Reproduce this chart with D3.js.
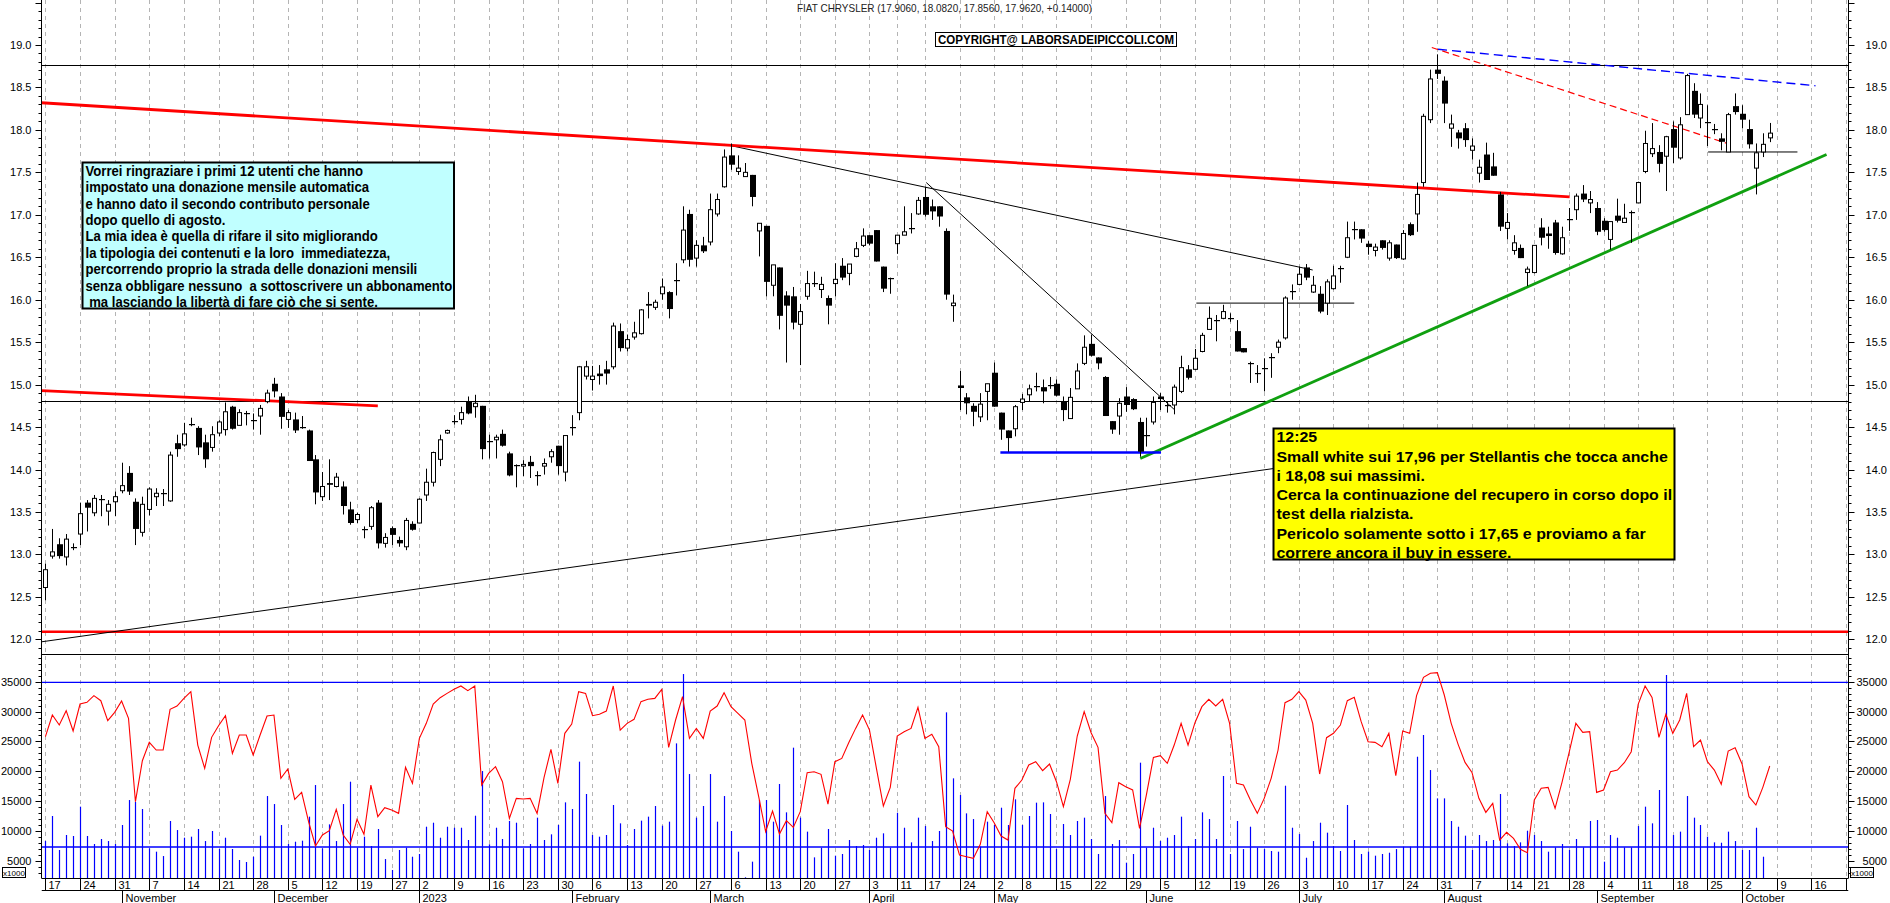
<!DOCTYPE html>
<html>
<head>
<meta charset="utf-8">
<script src="https://cdn.jsdelivr.net/npm/d3@7"></script>
<style>
  body { margin: 0; background: #fff; }
  svg { display: block; }
</style>
</head>
<body>
<script>
//
// data: one entry per trading day, Oct 17 2022 .. Oct 6 2023
//
var openP = [12.61,12.98,13.12,12.97,13.08,13.24,13.61,13.49,13.64,13.51,13.62,13.75,13.96,13.62,13.26,13.53,13.68,13.71,13.63,14.31,
  14.29,14.53,14.49,14.32,14.26,14.43,14.47,14.74,14.52,14.67,14.57,14.63,14.80,15.01,14.86,14.59,14.59,14.50,14.46,14.12,
  13.68,13.84,13.80,13.80,13.53,13.41,13.29,13.33,13.61,13.13,13.31,13.17,13.09,13.36,13.37,13.70,13.85,14.12,14.43,14.56,
  14.59,14.80,14.74,14.75,14.32,14.35,14.42,14.19,14.04,14.04,14.09,13.93,14.04,14.15,14.28,13.97,14.49,14.67,15.10,15.06,
  15.13,15.18,15.21,15.63,15.43,15.56,15.60,15.95,15.91,16.07,16.09,16.22,16.47,17.01,16.49,16.64,16.68,17.01,17.33,17.70,
  17.51,17.45,17.47,16.81,16.87,16.17,16.38,16.05,16.04,15.71,16.04,16.19,16.12,16.02,16.19,16.40,16.31,16.51,16.64,16.76,
  16.82,16.39,16.25,16.66,16.76,16.83,17.01,17.21,17.10,17.10,16.81,15.93,14.99,14.85,14.75,14.62,14.92,15.14,14.67,14.46,
  14.48,14.79,14.88,14.97,14.97,14.98,15.01,14.80,14.60,14.95,15.25,15.48,15.32,15.09,14.57,14.63,14.86,14.83,14.56,14.40,
  14.56,14.86,14.76,14.76,14.92,15.18,15.18,15.39,15.65,15.76,15.78,15.78,15.63,15.43,15.25,15.14,15.19,15.31,15.44,15.55,
  16.09,16.18,16.38,16.09,16.07,15.96,16.13,16.36,16.50,16.82,16.83,16.66,16.58,16.70,16.49,16.65,16.48,16.89,17.01,17.38,
  18.12,18.71,18.58,18.02,17.97,18.02,17.76,17.49,17.71,17.57,17.24,16.84,16.58,16.61,16.32,16.32,16.85,16.78,16.91,16.54,
  16.94,17.06,17.25,17.14,17.08,16.93,16.71,16.99,16.91,17.02,17.14,17.51,17.72,17.74,17.69,18.01,17.67,18.18,18.46,18.14,
  18.08,18.01,17.90,17.74,18.28,18.19,18.01,17.55,17.74,17.906]
var highP = [12.89,13.30,13.19,13.24,13.13,13.61,13.64,13.70,13.70,13.64,13.74,14.08,14.04,13.66,13.68,13.79,13.78,13.77,14.21,14.41,
  14.55,14.61,14.51,14.41,14.51,14.58,14.79,14.75,14.71,14.69,14.66,14.76,14.94,15.08,14.90,14.70,14.67,14.63,14.47,14.17,
  13.97,14.12,13.96,13.86,13.62,13.49,13.33,13.57,13.64,13.25,13.33,13.21,13.43,13.39,13.66,14.01,14.21,14.41,14.47,14.64,
  14.74,14.86,14.88,14.75,14.41,14.41,14.47,14.21,14.06,14.11,14.16,13.98,14.13,14.24,14.28,14.40,14.64,15.22,15.28,15.22,
  15.23,15.28,15.73,15.72,15.59,15.74,15.89,16.09,16.00,16.25,16.10,16.43,17.10,17.06,16.70,16.74,17.25,17.25,17.77,17.84,
  17.70,17.61,17.47,16.90,16.87,16.41,16.38,16.10,16.15,15.95,16.34,16.33,16.27,16.05,16.43,16.49,16.42,16.68,16.84,16.76,
  16.82,16.39,16.26,16.76,17.10,17.02,17.21,17.33,17.18,17.10,16.84,16.06,15.16,14.90,14.78,14.90,15.01,15.26,14.67,14.46,
  14.76,14.89,15.00,15.14,15.06,15.09,15.06,14.86,14.96,15.25,15.58,15.59,15.32,15.10,14.57,14.84,14.97,14.84,14.61,14.61,
  14.86,14.90,14.80,15.00,15.34,15.23,15.42,15.61,15.92,15.82,15.94,15.84,15.76,15.43,15.27,15.23,15.31,15.37,15.53,16.04,
  16.18,16.39,16.42,16.28,16.16,16.24,16.40,16.40,16.92,16.92,16.83,16.69,16.66,16.70,16.70,16.65,16.82,16.91,17.38,18.19,
  18.71,18.89,18.63,18.18,18.00,18.08,17.90,17.65,17.85,17.73,17.27,17.02,16.76,16.65,16.39,16.64,16.96,16.86,16.94,16.86,
  17.08,17.25,17.35,17.28,17.15,16.96,16.92,17.19,17.13,17.05,17.39,17.99,18.08,17.82,17.93,18.10,18.15,18.66,18.55,18.43,
  18.29,18.07,17.96,18.20,18.43,18.29,18.12,17.84,17.96,18.082]
var lowP = [12.46,12.95,12.95,12.87,13.05,13.11,13.27,13.45,13.45,13.34,13.45,13.72,13.70,13.11,13.21,13.46,13.57,13.57,13.62,14.15,
  14.27,14.51,14.17,14.02,14.21,14.39,14.40,14.47,14.52,14.52,14.47,14.41,14.78,14.85,14.48,14.49,14.43,14.48,14.10,13.59,
  13.63,13.64,13.79,13.47,13.35,13.37,13.19,13.29,13.07,13.08,13.11,13.09,13.05,13.28,13.37,13.63,13.80,14.04,14.42,14.53,
  14.53,14.65,14.61,14.12,14.13,14.13,14.27,13.92,13.79,13.92,13.90,13.81,13.94,14.08,13.94,13.86,14.40,14.58,15.06,14.93,
  15.00,15.00,15.18,15.39,15.39,15.53,15.59,15.78,15.88,16.00,15.78,16.05,16.43,16.39,16.39,16.55,16.64,16.98,17.32,17.53,
  17.47,17.45,17.10,16.51,16.04,16.04,15.65,15.26,15.65,15.23,16.00,16.15,16.02,15.71,16.04,16.23,16.17,16.50,16.62,16.64,
  16.45,16.09,16.07,16.54,16.76,16.78,17.00,16.98,16.94,16.86,16.00,15.74,14.70,14.65,14.51,14.56,14.58,14.74,14.35,14.21,
  14.39,14.70,14.80,14.92,14.78,14.95,14.86,14.57,14.60,14.95,15.23,15.33,15.18,14.63,14.42,14.41,14.68,14.70,14.15,14.27,
  14.53,14.70,14.67,14.65,14.90,15.06,15.17,15.38,15.65,15.51,15.77,15.74,15.39,15.38,15.02,15.02,14.92,15.08,15.37,15.53,
  16.00,16.17,16.23,16.08,15.84,15.82,16.12,16.20,16.49,16.71,16.67,16.53,16.51,16.59,16.46,16.48,16.47,16.75,16.80,17.33,
  18.08,18.60,18.08,17.80,17.78,17.80,17.65,17.38,17.41,17.46,16.81,16.71,16.53,16.49,16.16,16.31,16.64,16.60,16.53,16.53,
  16.81,16.94,17.15,17.02,16.76,16.80,16.59,16.91,16.91,16.67,17.14,17.49,17.68,17.50,17.28,17.61,17.65,18.18,18.14,18.02,
  17.81,17.95,17.76,17.74,18.18,18.02,17.78,17.24,17.68,17.856]
var closeP = [12.82,13.03,12.98,13.18,13.09,13.48,13.55,13.66,13.65,13.59,13.68,13.81,13.74,13.30,13.59,13.77,13.72,13.72,14.17,14.24,
  14.42,14.54,14.26,14.12,14.41,14.56,14.68,14.48,14.67,14.66,14.58,14.72,14.90,14.92,14.62,14.67,14.46,14.50,14.10,13.73,
  13.80,13.82,13.91,13.57,13.37,13.47,13.30,13.55,13.13,13.20,13.23,13.13,13.40,13.29,13.65,13.85,14.20,14.35,14.46,14.57,
  14.67,14.66,14.78,14.24,14.33,14.38,14.28,13.93,14.05,14.06,14.04,13.93,14.07,14.21,14.04,14.40,14.50,15.21,15.21,15.10,
  15.10,15.13,15.69,15.43,15.53,15.61,15.88,15.93,15.97,16.15,15.89,16.23,16.82,16.47,16.64,16.57,17.06,17.18,17.68,17.59,
  17.55,17.50,17.21,16.90,16.21,16.41,15.81,15.93,15.73,15.86,16.19,16.20,16.18,15.93,16.24,16.26,16.42,16.60,16.75,16.66,
  16.45,16.13,16.26,16.76,16.80,16.84,17.17,17.00,17.04,16.98,16.06,15.96,14.96,14.78,14.68,14.77,15.01,14.74,14.47,14.37,
  14.74,14.83,14.95,14.98,14.92,14.99,14.87,14.70,14.85,15.16,15.44,15.34,15.25,14.63,14.47,14.78,14.76,14.71,14.21,14.41,
  14.79,14.83,14.76,14.97,15.20,15.08,15.31,15.58,15.78,15.76,15.86,15.78,15.39,15.38,15.25,15.14,15.20,15.32,15.50,16.02,
  16.10,16.30,16.26,16.17,15.86,16.21,16.28,16.37,16.73,16.83,16.72,16.62,16.62,16.61,16.67,16.49,16.78,16.76,17.24,18.16,
  18.60,18.66,18.31,18.07,17.90,17.88,17.81,17.56,17.41,17.46,16.86,16.91,16.67,16.49,16.36,16.64,16.73,16.75,16.55,16.73,
  16.95,17.22,17.18,17.18,16.80,16.82,16.92,16.93,16.96,17.03,17.38,17.84,17.78,17.60,17.92,17.79,18.06,18.64,18.18,18.30,
  18.09,18.01,17.86,18.18,18.21,18.12,17.83,17.73,17.83,17.962]
var volume = [8340,12530,6840,9350,9180,14090,9180,7840,8680,8340,7840,11020,15200,14920,13700,7120,6560,5830,11690,10180,
  8900,9070,10350,8340,10020,7010,8900,7010,5170,4830,5720,9240,15870,14530,11020,7840,8230,8400,12420,17710,
  7120,11130,8340,14530,18270,7230,9070,7510,10350,5330,3490,6840,7230,5720,6170,10740,11410,8900,10740,10570,
  10570,8510,12580,20050,7790,10570,8680,11690,11410,7120,7840,12250,8510,9460,11020,14810,13700,21620,16210,9350,
  9070,9350,14370,11300,7680,10350,11750,12420,14200,10910,11580,24680,36280,19550,12250,14200,19550,11580,15870,10020,
  6560,2270,4890,15200,15200,11580,17880,13140,23960,12250,9910,5610,7230,10350,5890,6170,8510,7510,7680,6840,
  8900,9630,7230,13080,10570,8120,12250,10850,8340,10020,29870,18830,16040,12970,12020,7400,11580,11020,13920,11020,
  15320,11020,12530,14760,14810,12860,7000,11190,9350,11690,12250,8680,6170,15870,7840,8510,4720,6170,21450,7230,
  10570,8340,8900,9350,12420,7510,8680,13140,12020,8680,19220,6170,11690,7000,10740,7230,7000,6670,6560,17600,
  10570,9510,5550,8340,11410,9740,7510,6670,14370,8510,6170,6560,5890,6170,6390,7000,7400,7400,22450,26080,
  20220,15480,15480,11690,10740,9240,6840,9350,8340,8510,16210,7950,7510,8120,10070,9350,8340,6560,7280,7840,
  6840,8680,7280,11690,11860,4890,9350,8900,7280,7280,10850,14090,11300,16880,36120,9350,9910,15870,12250,11020,
  9070,8120,8060,9910,8340,6840,6840,10570,5720,null]
var volumeLine = [25800,29420,27750,30150,26750,31260,31540,32660,31820,28480,29870,31770,28870,14920,21780,24850,23570,23570,30370,30930,
  32210,33330,24400,20500,25690,27640,29310,23010,26080,26080,22730,26080,29260,29420,18830,20390,15310,16480,11580,7510,
  9350,10070,13640,9350,7790,11970,9460,17710,12420,13920,13530,12970,20670,17990,25520,28030,31260,32320,33050,33720,
  34280,33500,34280,17710,19660,20780,18270,12140,15480,15370,15480,12970,18940,23680,17990,26360,27920,33330,33050,29310,
  29540,30090,34280,26910,28030,28700,31660,32050,32210,33720,24020,28590,32490,25520,27190,25520,30090,30930,33160,30820,
  29700,28590,21340,15760,9900,13360,9520,11750,10630,13250,19780,19940,19500,14530,21620,22170,24800,27190,29420,26910,
  20500,14200,17320,25910,26630,27190,30710,25520,26190,24130,10740,10020,5990,5720,5440,7790,13250,11410,9180,8510,
  17160,18550,21060,21620,20110,21230,18270,14090,18660,25910,29980,26470,24020,12970,11410,18100,17430,16880,10460,16150,
  22340,22620,21340,24400,28030,24400,28140,30820,32050,30930,32050,28030,17990,17710,15200,12970,15480,18830,23570,31490,
  32050,33330,31930,28030,19550,25630,26360,27750,31820,32380,28310,24960,24850,24130,26360,19270,26750,26360,32660,35730,
  36400,36510,32770,28030,24520,21500,19830,15480,13140,14640,8510,9790,8790,6950,6390,15200,17160,17320,13810,18160,
  23010,28030,26520,26640,16480,16880,19940,20220,21450,23290,31210,34280,32380,25690,29540,26360,28590,33050,24130,25240,
  21620,20220,17830,23400,23960,21230,15760,14370,17320,20890]
// market holidays inside the period (Borsa Italiana)
var holidays = ['2022-12-26', '2023-04-07', '2023-04-10', '2023-05-01', '2023-08-15']
var monthNames = ['2023', 'February', 'March', 'April', 'May', 'June', 'July', 'August', 'September', 'October', 'November', 'December']
// horizontal levels
var priceLevels = [18.76, 14.81]
var supportLevel = [12.09]
var volumeLevels = [34890, 7340]
// drawn lines: [day index, price, day index, price]
var redTrend = [[-0.6, 18.32, 220.1, 17.21], [-0.6, 14.93, 48.0, 14.75]]
var blackTrend = [[98.1, 17.83, 183.0, 16.35], [127.2, 17.38, 163.1, 14.70], [-0.6, 11.97, 178.1, 14.02]]
var greenTrend = [[158.1, 14.13, 257.2, 17.71]]
var blueFloor = [[137.9, 14.20, 161.1, 14.20]]
var blackFlat = [[166.2, 15.96, 189.0, 15.96], [240.1, 17.74, 253.0, 17.74]]
var redDash = [[200.2, 18.97, 242.9, 17.84]]
var blueDash = [[201.1, 18.95, 255.6, 18.52]]
var priceTicks = d3.range(120, 195, 5).map(function(d) { return d / 10 })
var volumeTicks = d3.range(5000, 35001, 5000)
var title = 'FIAT CHRYSLER (17.9060, 18.0820, 17.8560, 17.9620, +0.14000)'
var copyright = 'COPYRIGHT@ LABORSADEIPICCOLI.COM'
var noteLines = ['Vorrei ringraziare i primi 12 utenti che hanno',
  'impostato una donazione mensile automatica',
  'e hanno dato il secondo contributo personale',
  'dopo quello di agosto.',
  'La mia idea è quella di rifare il sito migliorando',
  'la tipologia dei contenuti e la loro  immediatezza,',
  'percorrendo proprio la strada delle donazioni mensili',
  'senza obbligare nessuno  a sottoscrivere un abbonamento',
  ' ma lasciando la libertà di fare ciò che si sente.']
var commentLines = ['12:25',
  'Small white sui 17,96 per Stellantis che tocca anche',
  'i 18,08 sui massimi.',
  'Cerca la continuazione del recupero in corso dopo il',
  'test della rialzista.',
  'Pericolo solamente sotto i 17,65 e proviamo a far',
  'correre ancora il buy in essere.']

//
// trading calendar (categories of the x axis)
//
var fmtDay = d3.timeFormat('%Y-%m-%d')
var days = d3.timeDays(new Date(2022, 9, 17), new Date(2023, 9, 28)).filter(function(d) {
  return d.getDay() % 6 != 0 && holidays.indexOf(fmtDay(d)) < 0
})
var weekTicks = [], monthTicks = []
days.forEach(function(d, i) {
  if (i == 0 || +d3.timeMonday.floor(d) != +d3.timeMonday.floor(days[i - 1])) weekTicks.push(i)
  if (i > 0 && d.getMonth() != days[i - 1].getMonth()) monthTicks.push(i)
})

//
// layout
//
var W = 1890, H = 903
var axL = 41.5, axR = 1848.5
var priceBottom = 654.5, volBottom = 878.5, row2 = 890.5
var font = '"Liberation Sans", Arial, sans-serif'

var x = d3.scaleLinear().domain([-0.58, 260.3]).range([41.4, 1848])
var y = d3.scaleLinear().domain([11.827, 19.53]).range([654, 0])
var yv = d3.scaleLinear().domain([2156, 39633]).range([878, 654])
var px = function(i) { return Math.round(x(i)) + 0.5 }

var svg = d3.select('body').append('svg')
  .attr('width', W).attr('height', H)
  .style('font-family', font)

//
// weekly grid
//
svg.append('g').selectAll('line').data(weekTicks).enter().append('line')
  .attr('x1', function(i) { return px(i) }).attr('x2', function(i) { return px(i) })
  .attr('y1', 0).attr('y2', volBottom)
  .attr('stroke', '#b4b4b4').attr('stroke-dasharray', '4,4')

//
// horizontal levels
//
var gLev = svg.append('g')
gLev.selectAll('.lv').data(priceLevels).enter().append('line')
  .attr('x1', axL).attr('x2', axR)
  .attr('y1', function(d) { return Math.round(y(d)) + 0.5 }).attr('y2', function(d) { return Math.round(y(d)) + 0.5 })
  .attr('stroke', '#000')
gLev.selectAll('.sp').data(supportLevel).enter().append('line')
  .attr('x1', axL).attr('x2', axR)
  .attr('y1', function(d) { return y(d) }).attr('y2', function(d) { return y(d) })
  .attr('stroke', '#ff0000').attr('stroke-width', 2.5)
gLev.selectAll('.vl').data(volumeLevels).enter().append('line')
  .attr('x1', axL).attr('x2', axR)
  .attr('y1', function(d) { return yv(d) }).attr('y2', function(d) { return yv(d) })
  .attr('stroke', '#0000ff').attr('stroke-width', 1.3)
gLev.append('line').attr('x1', axL).attr('x2', axR).attr('y1', priceBottom).attr('y2', priceBottom).attr('stroke', '#000')

//
// trend lines
//
function drawSegs(data, color, width, dash) {
  svg.append('g').selectAll('line').data(data).enter().append('line')
    .attr('x1', function(d) { return x(d[0]) }).attr('y1', function(d) { return y(d[1]) })
    .attr('x2', function(d) { return x(d[2]) }).attr('y2', function(d) { return y(d[3]) })
    .attr('stroke', color).attr('stroke-width', width)
    .attr('stroke-dasharray', dash || null)
}
drawSegs(blackTrend, '#000', 1)
drawSegs(blackFlat, '#000', 1)
drawSegs(redTrend, '#ff0000', 2.8)
drawSegs(greenTrend, '#10a010', 2.8)
drawSegs(blueFloor, '#0000ff', 2.5)
drawSegs(redDash, '#ff0000', 1.2, '7,4')
drawSegs(blueDash, '#0000ff', 1.4, '9,5')

//
// candles
//
var idx = d3.range(closeP.length)
var gC = svg.append('g')
gC.selectAll('.wick').data(idx).enter().append('line')
  .attr('x1', px).attr('x2', px)
  .attr('y1', function(i) { return y(highP[i]) }).attr('y2', function(i) { return y(lowP[i]) })
  .attr('stroke', '#000')
gC.selectAll('.body').data(idx).enter().append('rect')
  .each(function(i) {
    var top = y(Math.max(openP[i], closeP[i])), bot = y(Math.min(openP[i], closeP[i]))
    var up = closeP[i] >= openP[i]
    var h = Math.max(1, bot - top)
    var r = d3.select(this)
    if (h < 1.6) {
      r.attr('x', Math.round(x(i)) - 2).attr('width', 6).attr('y', Math.round(top)).attr('height', 1.2).attr('fill', '#000')
    } else if (up) {
      r.attr('x', Math.round(x(i)) - 1.5).attr('width', 4).attr('y', top).attr('height', h)
        .attr('fill', '#fff').attr('stroke', '#000')
    } else {
      r.attr('x', Math.round(x(i)) - 2).attr('width', 6).attr('y', top).attr('height', h).attr('fill', '#000')
    }
  })

//
// volume bars and line
//
svg.append('g').selectAll('line').data(idx.filter(function(i) { return volume[i] != null })).enter().append('line')
  .attr('x1', px).attr('x2', px)
  .attr('y1', function(i) { return yv(volume[i]) }).attr('y2', volBottom)
  .attr('stroke', '#0000ff').attr('stroke-width', 1.2)
svg.append('path')
  .attr('d', d3.line().x(function(d, i) { return x(i) }).y(function(d) { return yv(d) })(volumeLine))
  .attr('fill', 'none').attr('stroke', '#ff0000').attr('stroke-width', 1.1)

//
// axes
//
var gA = svg.append('g').attr('stroke', '#000')
gA.append('line').attr('x1', axL).attr('x2', axL).attr('y1', 0).attr('y2', volBottom)
gA.append('line').attr('x1', axR).attr('x2', axR).attr('y1', 0).attr('y2', volBottom)
var minorP = d3.range(119, 196).map(function(d) { return d / 10 })
var minorV = d3.range(3000, 39001, 1000)
function ticks(vals, scale, major) {
  vals.forEach(function(v) {
    var yy = Math.round(scale(v)) + 0.5
    var len = major(v) ? 6 : 3
    gA.append('line').attr('x1', axL - len).attr('x2', axL).attr('y1', yy).attr('y2', yy)
    gA.append('line').attr('x1', axR).attr('x2', axR + len).attr('y1', yy).attr('y2', yy)
  })
}
ticks(minorP, y, function(v) { return Math.abs(v * 2 - Math.round(v * 2)) < 1e-6 })
ticks(minorV, yv, function(v) { return v % 5000 == 0 })

var gT = svg.append('g').style('font-size', '11px').attr('fill', '#000')
function labels(vals, scale, fmt) {
  vals.forEach(function(v) {
    gT.append('text').attr('x', 31.5).attr('y', scale(v) + 4).attr('text-anchor', 'end').text(fmt(v))
    gT.append('text').attr('x', 1887).attr('y', scale(v) + 4).attr('text-anchor', 'end').text(fmt(v))
  })
}
labels(priceTicks, y, d3.format('.1f'))
labels(volumeTicks, yv, function(v) { return v })

// x1000 boxes
;[2.5, 1850.5].forEach(function(bx) {
  svg.append('rect').attr('x', bx).attr('y', 867.5).attr('width', 23).attr('height', 10)
    .attr('fill', '#fff').attr('stroke', '#000')
  svg.append('text').attr('x', bx + 11.5).attr('y', 875.5).attr('text-anchor', 'middle')
    .style('font-size', '8px').text('x1000')
})

// date axis
var gD = svg.append('g')
svg.append('clipPath').attr('id', 'dclip').append('rect').attr('x', axL).attr('y', 870).attr('width', axR - axL).attr('height', 40)
gD.attr('clip-path', 'url(#dclip)')
gD.append('line').attr('x1', axL).attr('x2', axR).attr('y1', volBottom).attr('y2', volBottom).attr('stroke', '#000')
gD.append('line').attr('x1', axL).attr('x2', axR).attr('y1', row2).attr('y2', row2).attr('stroke', '#000')
weekTicks.forEach(function(i) {
  gD.append('line').attr('x1', px(i)).attr('x2', px(i)).attr('y1', volBottom).attr('y2', row2).attr('stroke', '#000')
  gD.append('text').attr('x', px(i) + 3).attr('y', 888.5).style('font-size', '11px').text(days[i].getDate())
})
monthTicks.forEach(function(i) {
  gD.append('line').attr('x1', px(i)).attr('x2', px(i)).attr('y1', row2).attr('y2', H).attr('stroke', '#000')
  gD.append('text').attr('x', px(i) + 3).attr('y', 901.5).style('font-size', '11px')
    .text(monthNames[days[i].getMonth()])
})

//
// title and copyright
//
svg.append('text').attr('x', 797).attr('y', 12).style('font-size', '10.5px').attr('fill', '#222')
  .attr('textLength', 295).attr('lengthAdjust', 'spacingAndGlyphs').text(title)
svg.append('rect').attr('x', 935.5).attr('y', 32.5).attr('width', 241).attr('height', 14)
  .attr('fill', '#fff').attr('stroke', '#000')
svg.append('text').attr('x', 938).attr('y', 44).style('font-size', '12px').style('font-weight', 'bold')
  .attr('textLength', 236).attr('lengthAdjust', 'spacingAndGlyphs').text(copyright)

//
// note boxes
//
function noteBox(lines, bx, by, bw, bh, fill, size, first, step, maxW) {
  svg.append('rect').attr('x', bx).attr('y', by).attr('width', bw).attr('height', bh)
    .attr('fill', fill).attr('stroke', '#000').attr('stroke-width', 2)
  var g = svg.append('g').style('font-size', size + 'px').style('font-weight', 'bold')
  var texts = lines.map(function(t, k) {
    return g.append('text').attr('x', 0).attr('y', first + k * step).attr('xml:space', 'preserve').text(t)
  })
  var widest = d3.max(texts, function(t) { return t.node().getComputedTextLength() })
  g.attr('transform', 'translate(' + (bx + 3) + ',0) scale(' + (maxW / widest) + ',1)')
}
noteBox(noteLines, 82.5, 162.5, 371.5, 146, '#c0ffff', 14, 175.7, 16.43, 367)
noteBox(commentLines, 1273.5, 428.5, 401, 131, '#ffff00', 15.5, 442.3, 19.3, 396)
</script>
</body>
</html>
